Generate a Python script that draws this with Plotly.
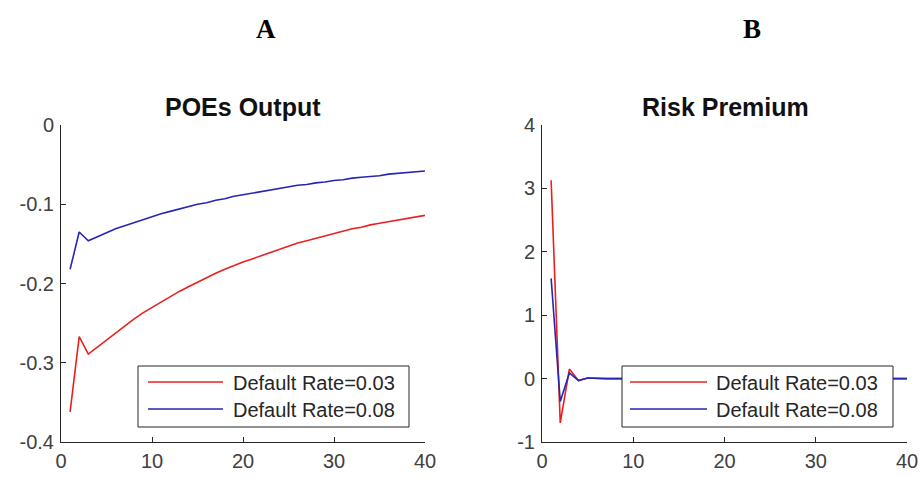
import plotly.graph_objects as go
from plotly.subplots import make_subplots

# ---------------- data ----------------
periods = list(range(1, 41))

poes_output_003 = [
    -0.362, -0.267, -0.289, -0.280, -0.271, -0.262, -0.253, -0.245, -0.237, -0.230,
    -0.223, -0.216, -0.210, -0.204, -0.198, -0.193, -0.187, -0.182, -0.177, -0.173,
    -0.169, -0.165, -0.161, -0.157, -0.153, -0.149, -0.146, -0.143, -0.140, -0.137,
    -0.134, -0.131, -0.129, -0.126, -0.124, -0.122, -0.120, -0.118, -0.116, -0.114,
]
poes_output_008 = [
    -0.182, -0.135, -0.146, -0.141, -0.136, -0.131, -0.127, -0.123, -0.119, -0.116,
    -0.112, -0.109, -0.106, -0.103, -0.100, -0.098, -0.095, -0.093, -0.090, -0.088,
    -0.086, -0.084, -0.082, -0.080, -0.078, -0.076, -0.075, -0.073, -0.072, -0.070,
    -0.069, -0.067, -0.066, -0.065, -0.064, -0.062, -0.061, -0.060, -0.059, -0.058,
]
risk_premium_003 = [3.13, -0.70, 0.15, -0.03, 0.01] + [0.0] * 35
risk_premium_008 = [1.58, -0.36, 0.09, -0.03, 0.01] + [0.0] * 35

series_names = ["Default Rate=0.03", "Default Rate=0.08"]
panel_titles = ["POEs Output", "Risk Premium"]
panel_letters = ["A", "B"]

x_ticks = [0, 10, 20, 30, 40]
left_y_ticks = [0, -0.1, -0.2, -0.3, -0.4]
left_y_labels = ["0", "-0.1", "-0.2", "-0.3", "-0.4"]
right_y_ticks = [4, 3, 2, 1, 0, -1]
right_y_labels = ["4", "3", "2", "1", "0", "-1"]

# ---------------- styling ----------------
W, H = 923, 477
RED = "#e8201f"
BLUE = "#2626b4"
AXC = "#262626"
TICKC = "#404040"
SANS = "Liberation Sans, Arial, sans-serif"
SERIF = "Liberation Serif, Times New Roman, serif"


def px(x):
    return x / W


def py(y):
    return 1 - y / H


fig = make_subplots(rows=1, cols=2)

fig.add_trace(go.Scatter(x=periods, y=poes_output_003, mode="lines", name=series_names[0],
                         line=dict(color=RED, width=1.6), showlegend=False), row=1, col=1)
fig.add_trace(go.Scatter(x=periods, y=poes_output_008, mode="lines", name=series_names[1],
                         line=dict(color=BLUE, width=1.6), showlegend=False), row=1, col=1)
fig.add_trace(go.Scatter(x=periods, y=risk_premium_003, mode="lines", name=series_names[0],
                         line=dict(color=RED, width=1.6), showlegend=False), row=1, col=2)
fig.add_trace(go.Scatter(x=periods, y=risk_premium_008, mode="lines", name=series_names[1],
                         line=dict(color=BLUE, width=1.6), showlegend=False), row=1, col=2)

axis_common = dict(showline=True, linecolor=AXC, linewidth=1, mirror=False,
                   ticks="inside", ticklen=5, tickcolor=AXC, tickwidth=1,
                   showgrid=False, zeroline=False, automargin=False,
                   tickfont=dict(family=SANS, size=20, color=TICKC))

fig.update_xaxes(**axis_common, range=[0, 40], tickvals=x_ticks,
                 ticktext=[str(t) for t in x_ticks], ticklabelstandoff=1)
fig.update_yaxes(**axis_common, ticklabelstandoff=2)

fig.update_xaxes(domain=[px(61), px(425)], row=1, col=1)
fig.update_xaxes(domain=[px(542), px(907)], row=1, col=2)
fig.update_yaxes(domain=[py(442), py(125)], range=[-0.4, 0], tickvals=left_y_ticks,
                 ticktext=left_y_labels, row=1, col=1)
fig.update_yaxes(domain=[py(442), py(125)], range=[-1, 4], tickvals=right_y_ticks,
                 ticktext=right_y_labels, row=1, col=2)

annotations = []
shapes = []

# panel titles and letters
for title, letter, cx, lx in [(panel_titles[0], panel_letters[0], 243, 266),
                              (panel_titles[1], panel_letters[1], 725, 752)]:
    annotations.append(dict(x=px(cx), y=py(107), xref="paper", yref="paper",
                            text="<b>%s</b>" % title, showarrow=False,
                            xanchor="center", yanchor="middle",
                            font=dict(family=SANS, size=25, color="#111111")))
    annotations.append(dict(x=px(lx), y=py(29), xref="paper", yref="paper",
                            text="<b>%s</b>" % letter, showarrow=False,
                            xanchor="center", yanchor="middle",
                            font=dict(family=SERIF, size=27, color="#000000")))

# manual legends (box, sample lines, labels)
for bx0, bx1, lx0, lx1, tx in [(138, 409, 148, 223, 231), (622, 893, 630, 707, 714)]:
    shapes.append(dict(type="rect", xref="paper", yref="paper",
                       x0=px(bx0), x1=px(bx1), y0=py(427), y1=py(366),
                       fillcolor="white", line=dict(color=AXC, width=1), layer="above"))
    for name, color, ry in [(series_names[0], RED, 382), (series_names[1], BLUE, 409)]:
        shapes.append(dict(type="line", xref="paper", yref="paper",
                           x0=px(lx0), x1=px(lx1), y0=py(ry), y1=py(ry),
                           line=dict(color=color, width=1.6), layer="above"))
        annotations.append(dict(x=px(tx), y=py(ry + 1), xref="paper", yref="paper",
                                text=name, showarrow=False, xanchor="left", yanchor="middle",
                                font=dict(family=SANS, size=20, color=AXC)))

fig.update_layout(width=W, height=H, autosize=False,
                  margin=dict(l=0, r=0, t=0, b=0),
                  paper_bgcolor="white", plot_bgcolor="white",
                  showlegend=False, annotations=annotations, shapes=shapes)

fig.write_html("out.html",
               config={"displayModeBar": False},
               post_script="document.body.style.margin='0px';"
                           "document.body.style.overflow='hidden';")
